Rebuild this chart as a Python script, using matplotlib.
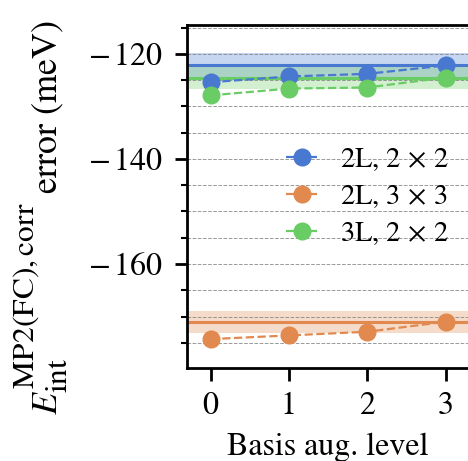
import matplotlib
matplotlib.use("Agg")
import matplotlib.pyplot as plt
import matplotlib._mathtext as mathtext_impl
from matplotlib.ticker import MultipleLocator, FuncFormatter

# larger scripts, closer to LaTeX at big sizes
mathtext_impl.SHRINK_FACTOR = 0.87

plt.rcParams['font.family'] = ['STIXGeneral', 'DejaVu Serif']
plt.rcParams['mathtext.fontset'] = 'stix'
plt.rcParams['font.size'] = 23

# basis augmentation levels
levels = [0, 1, 2, 3]

labels = [r'2L, $2\,\times\,2$', r'2L, $3\,\times\,3$', r'3L, $2\,\times\,2$']
colors = ['#4878d0', '#e1894f', '#6acc64']

# MP2 interaction energy errors (meV) per augmentation level
err_2l_22 = [-125.4, -124.3, -123.8, -122.2]
err_2l_33 = [-174.3, -173.6, -172.9, -171.0]
err_3l_22 = [-127.9, -126.6, -126.4, -124.5]

# reference values and their uncertainty
ref_vals = [-122.2, -171.1, -124.6]
ref_unc = [2.3, 2.1, 2.1]

series = [err_2l_22, err_2l_33, err_3l_22]


def fmt_y(v, pos):
    if v < 0:
        return r'$-\,%d$' % abs(v)
    return r'$%d$' % v


fig = plt.figure(figsize=(4.68, 4.61), dpi=100)
ax = fig.add_axes([187/468, 1 - 368/461, 282/468, 343/461])

for vals, lab, col, ref, unc in zip(series, labels, colors, ref_vals, ref_unc):
    ax.axhspan(ref - unc, ref + unc, color=col, alpha=0.3, lw=0, zorder=1)
    ax.axhline(ref, color=col, lw=2.2, zorder=2)
    ax.plot(levels, vals, '--o', color=col, lw=1.6, ms=12, label=lab, zorder=3)

ax.set_xlim(-0.3, 3.3)
ax.set_ylim(-179.8, -114.5)
ax.set_xticks(levels)
ax.yaxis.set_major_locator(MultipleLocator(20))
ax.yaxis.set_minor_locator(MultipleLocator(5))
ax.yaxis.set_major_formatter(FuncFormatter(fmt_y))
ax.grid(True, which='both', axis='y', ls='--', lw=0.7, color='gray', alpha=0.8, zorder=0)

for s in ax.spines.values():
    s.set_linewidth(2)
ax.tick_params(which='major', length=9, width=2, pad=8)
ax.tick_params(which='minor', length=4.5, width=1.5)

ax.set_xlabel('Basis aug. level', labelpad=8)
ax.set_ylabel(r'$E_{\mathrm{int}}^{\mathrm{MP2(FC),corr}}$ error (meV)', fontsize=26)
ax.yaxis.set_label_coords(-0.415, 0.44)

ax.legend(loc='center right', frameon=False, handlelength=1.1, fontsize=20.5,
          borderaxespad=0.3, labelspacing=0.35, handletextpad=0.8)

fig.savefig('out.png', dpi=100)
